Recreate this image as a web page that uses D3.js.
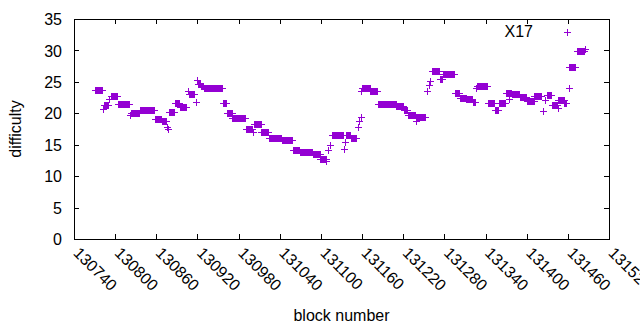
<!DOCTYPE html>
<html>
<head>
<meta charset="utf-8">
<script src="https://cdn.jsdelivr.net/npm/d3@7"></script>
<style>
  body { margin: 0; background: #fff; }
  svg text { font-family: "Liberation Sans", Arial, sans-serif; font-size: 16px; fill: #000; }
</style>
</head>
<body>
<svg id="chart" width="640" height="330"></svg>
<script>
// difficulty, as runs of blocks: [first block, last block, difficulty]
var runs = [
  [130770, 130781, 23.7], [130783, 130783, 20.7], [130784, 130790, 21.3], [130791, 130791, 22.2],
  [130794, 130803, 22.7], [130804, 130820, 21.4], [130822, 130822, 19.8], [130823, 130835, 20.0],
  [130836, 130857, 20.6], [130858, 130867, 19.1], [130868, 130874, 18.7], [130876, 130876, 17.8],
  [130877, 130877, 17.5], [130879, 130886, 20.2], [130887, 130893, 21.6], [130894, 130904, 21.0],
  [130906, 130906, 23.5], [130907, 130915, 23.1], [130918, 130918, 21.8], [130920, 130920, 25.3],
  [130921, 130924, 24.6], [130925, 130928, 24.3], [130929, 130956, 24.0], [130957, 130962, 21.6],
  [130963, 130970, 20.1], [130971, 130990, 19.3], [130991, 131000, 17.5], [131001, 131001, 17.0],
  [131003, 131012, 18.3], [131013, 131023, 17.1], [131024, 131042, 16.0], [131043, 131058, 15.7],
  [131059, 131068, 14.2], [131069, 131087, 13.9], [131088, 131098, 13.5], [131099, 131107, 12.8],
  [131108, 131108, 12.4], [131110, 131110, 14.2], [131113, 131113, 14.9], [131116, 131132, 16.5],
  [131133, 131133, 14.3], [131135, 131135, 15.5], [131136, 131143, 16.5], [131144, 131151, 16.1],
  [131154, 131154, 17.8], [131156, 131156, 18.8], [131158, 131158, 19.4], [131159, 131159, 23.5],
  [131160, 131171, 24.1], [131172, 131182, 23.5], [131183, 131209, 21.5], [131210, 131220, 21.1],
  [131221, 131226, 20.6], [131227, 131237, 19.8], [131238, 131238, 18.7], [131239, 131252, 19.4],
  [131255, 131255, 23.5], [131257, 131257, 24.5], [131259, 131259, 25.2], [131262, 131272, 26.8],
  [131273, 131277, 25.5], [131278, 131294, 26.2], [131295, 131302, 23.3], [131303, 131311, 22.5],
  [131312, 131320, 22.3], [131321, 131325, 21.8], [131326, 131326, 24.1], [131327, 131342, 24.4],
  [131343, 131353, 21.7], [131354, 131358, 20.5], [131359, 131369, 21.7], [131370, 131377, 23.2],
  [131374, 131374, 22.3], [131378, 131389, 23.0], [131390, 131399, 22.6], [131400, 131410, 21.9],
  [131411, 131421, 22.7], [131424, 131424, 20.4], [131427, 131427, 22.1], [131429, 131435, 22.9],
  [131437, 131444, 21.3], [131445, 131445, 20.9], [131446, 131454, 22.1], [131455, 131458, 21.7],
  [131461, 131461, 24.1], [131462, 131471, 27.4], [131473, 131484, 29.9], [131485, 131485, 30.3]
];
var xTicks = [130740, 130800, 130860, 130920, 130980, 131040, 131100, 131160, 131220, 131280, 131340, 131400, 131460, 131520];
var yTicks = [0, 5, 10, 15, 20, 25, 30, 35];
var seriesName = "X17";

(function () {
  var svg = d3.select("#chart");
  var plotLeft = 74, plotRight = 609, plotTop = 19, plotBottom = 239;
  var color = "#9400d3";

  var x = d3.scaleLinear().domain([130740, 131520]).range([plotLeft, plotRight]);
  var y = d3.scaleLinear().domain([0, 35]).range([plotBottom, plotTop]);

  var points = [];
  runs.forEach(function (r) {
    d3.range(r[0], r[1] + 1).forEach(function (b) { points.push([b, r[2]]); });
  });

  function plus(px, py) {
    return "M" + (px - 3) + "," + (py + 0.5) + "H" + (px + 4) +
           "M" + (px + 0.5) + "," + (py - 3) + "V" + (py + 4);
  }

  // axes, gnuplot style: ticks inside, mirrored
  var gx = svg.append("g").attr("transform", "translate(0," + plotBottom + ")")
    .call(d3.axisBottom(x).tickValues(xTicks).tickSize(-5).tickSizeOuter(0).tickFormat(d3.format("d")));
  gx.selectAll(".tick text")
    .attr("y", null).attr("x", null).attr("dy", "0.35em")
    .attr("text-anchor", "start")
    .attr("transform", "translate(2,11) rotate(45)");

  svg.append("g").attr("transform", "translate(0," + plotTop + ")")
    .call(d3.axisTop(x).tickValues(xTicks).tickSize(-5).tickSizeOuter(0).tickFormat(""));

  var gy = svg.append("g").attr("transform", "translate(" + plotLeft + ",0)")
    .call(d3.axisLeft(y).tickValues(yTicks).tickSize(-5).tickSizeOuter(0));
  gy.selectAll(".tick text").attr("x", -12).attr("dy", "0.35em");

  svg.append("g").attr("transform", "translate(" + plotRight + ",0)")
    .call(d3.axisRight(y).tickValues(yTicks).tickSize(-5).tickSizeOuter(0).tickFormat(""));

  svg.selectAll(".domain").remove();
  svg.selectAll(".tick line").attr("shape-rendering", "crispEdges");

  svg.append("rect")
    .attr("x", plotLeft + 0.5).attr("y", plotTop + 0.5)
    .attr("width", plotRight - plotLeft).attr("height", plotBottom - plotTop)
    .attr("fill", "none").attr("stroke", "#000").attr("shape-rendering", "crispEdges");

  // points
  svg.append("g").selectAll("path").data(points).enter().append("path")
    .attr("d", function (d) { return plus(Math.round(x(d[0])), Math.round(y(d[1]))); })
    .attr("stroke", color).attr("stroke-width", 1).attr("fill", "none")
    .attr("shape-rendering", "crispEdges");

  // key
  svg.append("text").attr("x", 533).attr("y", 37).attr("text-anchor", "end").text(seriesName);
  svg.append("path").attr("d", plus(567, 32))
    .attr("stroke", color).attr("fill", "none").attr("shape-rendering", "crispEdges");

  // axis titles
  svg.append("text").attr("x", (plotLeft + plotRight) / 2).attr("y", 321)
    .attr("text-anchor", "middle").text("block number");
  svg.append("text").attr("transform", "translate(21," + ((plotTop + plotBottom) / 2) + ") rotate(-90)")
    .attr("text-anchor", "middle").text("difficulty");
})();
</script>
</body>
</html>
